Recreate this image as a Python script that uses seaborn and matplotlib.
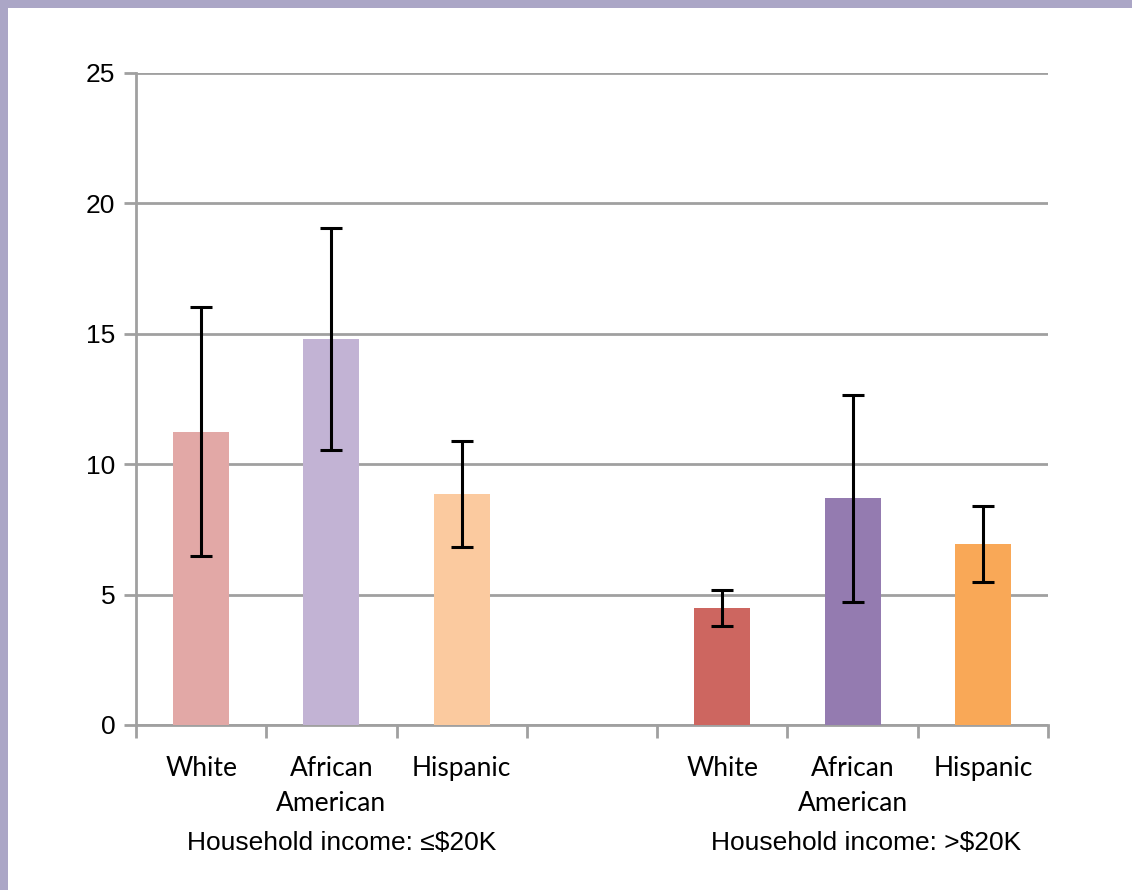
import numpy as np
import pandas as pd
import seaborn as sns
import matplotlib.pyplot as plt
from matplotlib.patches import Rectangle

# data
slots = ['White_lo', 'AA_lo', 'Hisp_lo', 'gap', 'White_hi', 'AA_hi', 'Hisp_hi']
tick_labels = ['White', 'African\nAmerican', 'Hispanic', '', 'White', 'African\nAmerican', 'Hispanic']
values = [11.25, 14.8, 8.86, np.nan, 4.48, 8.70, 6.95]
err = [4.78, 4.26, 2.03, np.nan, 0.68, 3.97, 1.46]
colors = ['#E2A8A6', '#C2B3D4', '#FBCA9F', '#FFFFFF', '#CD6660', '#947BB0', '#F9A857']
group_labels = ['Household income: ≤$20K', 'Household income: >$20K']

df = pd.DataFrame({'slot': slots, 'value': values})

sns.set_style('white')
plt.rcParams['font.family'] = ['Liberation Sans', 'DejaVu Sans']
plt.rcParams['text.color'] = 'black'

fig = plt.figure(figsize=(11.32, 8.90), dpi=100)
fig.patches.append(Rectangle((0, 0), 1, 1, transform=fig.transFigure,
                             facecolor='white', edgecolor='none', zorder=-2))
# purple frame on left and top
fig.patches.append(Rectangle((0, 0), 8 / 1132, 1, transform=fig.transFigure,
                             facecolor='#ABA6C6', edgecolor='none', zorder=-1))
fig.patches.append(Rectangle((0, 1 - 8 / 890), 1, 8 / 890, transform=fig.transFigure,
                             facecolor='#ABA6C6', edgecolor='none', zorder=-1))

ax = fig.add_axes([136 / 1132, 1 - 725 / 890, 912 / 1132, 652 / 890])
ax.set_facecolor('none')

sns.barplot(data=df, x='slot', y='value', hue='slot', order=slots, hue_order=slots,
            palette=colors, saturation=1, width=0.43, linewidth=0, legend=False,
            ax=ax, zorder=3, errorbar=None)

pos = np.arange(len(slots))
mask = ~np.isnan(values)
ax.errorbar(pos[mask], np.array(values)[mask], yerr=np.array(err)[mask], fmt='none',
            ecolor='black', elinewidth=2.2, capsize=8, capthick=2.2, zorder=4)

ax.set_ylim(0, 25)
ax.set_xlim(-0.5, 6.5)
ax.set_yticks([0, 5, 10, 15, 20, 25])
ax.yaxis.grid(True, color='#A0A0A0', linewidth=2)
ax.set_axisbelow(True)
ax.set_xticks(pos)
ax.set_xticklabels(tick_labels, fontsize=19, family=['Lato', 'DejaVu Sans'], linespacing=1.5)
ax.set_xticks(np.arange(-0.5, 7, 1), minor=True)
ax.tick_params(axis='x', which='major', length=0, pad=22, bottom=True, labelcolor='black')
ax.tick_params(axis='x', which='minor', length=9, width=2, color='#A0A0A0',
               direction='out', bottom=True)
ax.tick_params(axis='y', length=9, width=2, color='#A0A0A0', direction='out',
               labelsize=19, pad=6, left=True, labelcolor='black')
ax.set_xlabel('')
ax.set_ylabel('')

for s in ['top', 'right']:
    ax.spines[s].set_visible(False)
for s in ['left', 'bottom']:
    ax.spines[s].set_color('#A0A0A0')
    ax.spines[s].set_linewidth(2)

fig.text(342 / 1132, 1 - 843 / 890, group_labels[0], ha='center', va='center', fontsize=19)
fig.text(866 / 1132, 1 - 843 / 890, group_labels[1], ha='center', va='center', fontsize=19)

fig.savefig('out.png', dpi=100)
